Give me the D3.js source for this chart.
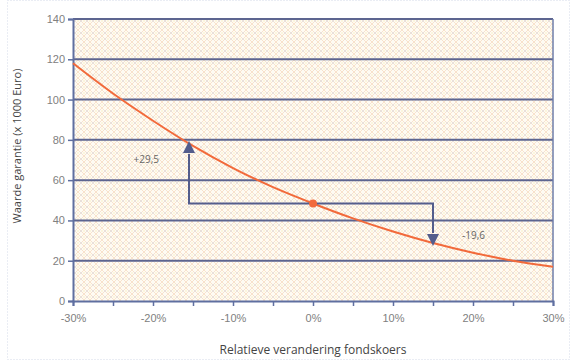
<!DOCTYPE html>
<html>
<head>
<meta charset="utf-8">
<script src="https://cdn.jsdelivr.net/npm/d3@7"></script>
<style>
  body { margin: 0; background: #fff; }
  svg { display: block; font-family: "Open Sans", "DejaVu Sans", sans-serif; }
</style>
</head>
<body>
<svg id="chart" width="570" height="360"></svg>
<script>
// koersverandering (fractie) en waarde garantie (x 1000 Euro)
const changes = [-0.30, -0.25, -0.20, -0.15, -0.10, -0.05, 0, 0.05, 0.10, 0.15, 0.20, 0.25, 0.30];
const values  = [118, 103, 89.5, 77, 66, 56.5, 48.4, 41, 34.5, 28.8, 24, 20, 17];
const xTicks = [-0.30, -0.20, -0.10, 0, 0.10, 0.20, 0.30];
const yTicks = [0, 20, 40, 60, 80, 100, 120, 140];
const baseValue = 48.4;
const upChange = -0.155, upValue = 77.9, upLabel = "+29,5";
const downChange = 0.15, downValue = 28.8, downLabel = "-19,6";

const svg = d3.select("#chart");
const margin = { top: 19, right: 17, bottom: 59, left: 73 };
const width = +svg.attr("width");
const height = +svg.attr("height");

const x = d3.scaleLinear().domain([-0.30, 0.30]).range([margin.left, width - margin.right]);
const y = d3.scaleLinear().domain([0, 140]).range([height - margin.bottom, margin.top]);

// achtergrond patroon
const defs = svg.append("defs");
const pat = defs.append("pattern")
  .attr("id", "hatch").attr("width", 6).attr("height", 6)
  .attr("patternUnits", "userSpaceOnUse");
pat.append("rect").attr("width", 6).attr("height", 6).attr("fill", "#fefbf3");
pat.append("path").attr("d", "M0,0 L6,6 M6,0 L0,6")
  .attr("stroke", "#f8e2cc").attr("stroke-width", 1);
pat.append("circle").attr("cx", 3).attr("cy", 3).attr("r", 0.9).attr("fill", "#e4e0e0");
pat.append("circle").attr("cx", 0).attr("cy", 3).attr("r", 0.8).attr("fill", "#fbefc2");
pat.append("circle").attr("cx", 6).attr("cy", 3).attr("r", 0.8).attr("fill", "#fbefc2");

// buitenrand
svg.append("rect")
  .attr("x", 7.5).attr("y", 0.5).attr("width", width - 8).attr("height", height - 1)
  .attr("fill", "none").attr("stroke", "#d5dbe8").attr("stroke-dasharray", "1,2");

svg.append("rect")
  .attr("x", x(-0.30)).attr("y", y(140))
  .attr("width", x(0.30) - x(-0.30)).attr("height", y(0) - y(140))
  .attr("fill", "url(#hatch)");

// gridlijnen
svg.append("g")
  .selectAll("line")
  .data(yTicks.filter(d => d > 0))
  .join("line")
  .attr("x1", x(-0.30)).attr("x2", x(0.30))
  .attr("y1", d => y(d)).attr("y2", d => y(d))
  .attr("stroke", "#5d6590").attr("stroke-width", 2);

// rechterrand
svg.append("line")
  .attr("x1", x(0.30)).attr("x2", x(0.30))
  .attr("y1", y(140)).attr("y2", y(0))
  .attr("stroke", "#6f7eaa").attr("stroke-width", 1.5);

// assen
const axisColor = "#5f6fa0";
const yAxis = svg.append("g")
  .attr("transform", `translate(${x(-0.30)},0)`)
  .call(d3.axisLeft(y).tickValues(yTicks).tickSize(5).tickPadding(3).tickFormat(d3.format("d")));
const xAxis = svg.append("g")
  .attr("transform", `translate(0,${y(0)})`)
  .call(d3.axisBottom(x).tickValues(d3.range(-0.30, 0.301, 0.05)).tickSize(5).tickPadding(8)
    .tickFormat(d => xTicks.some(t => Math.abs(t - d) < 1e-9) ? d3.format(".0%")(d).replace("−", "-") : ""));

[xAxis, yAxis].forEach(g => {
  g.select(".domain").attr("stroke", axisColor).attr("stroke-width", 2);
  g.selectAll(".tick line").attr("stroke", axisColor).attr("stroke-width", 1.5);
  g.selectAll(".tick text").attr("fill", "#808080").attr("font-size", 11);
});

// curve
const line = d3.line()
  .x((d, i) => x(changes[i]))
  .y(d => y(d))
  .curve(d3.curveMonotoneX);

svg.append("path")
  .datum(values)
  .attr("d", line)
  .attr("fill", "none")
  .attr("stroke", "#f26a3b")
  .attr("stroke-width", 2);

// pijlen
const arrowColor = "#535d8c";
svg.append("path")
  .attr("d", `M${x(upChange)},${y(upValue) + 10} V${y(baseValue)} H${x(downChange)} V${y(downValue) - 10}`)
  .attr("fill", "none").attr("stroke", arrowColor).attr("stroke-width", 2);

const tri = 6;
svg.append("path")
  .attr("d", `M${x(upChange)},${y(upValue) - 3} l${tri},${12} h${-2 * tri} Z`)
  .attr("fill", arrowColor);
svg.append("path")
  .attr("d", `M${x(downChange)},${y(downValue) + 3} l${tri},${-12} h${-2 * tri} Z`)
  .attr("fill", arrowColor);

svg.append("circle")
  .attr("cx", x(0)).attr("cy", y(baseValue)).attr("r", 4)
  .attr("fill", "#f26a3b");

// labels
svg.append("text")
  .attr("x", x(upChange) - 30).attr("y", y(upValue) + 19)
  .attr("text-anchor", "end").attr("font-size", 10).attr("fill", "#666")
  .text(upLabel);
svg.append("text")
  .attr("x", x(downChange) + 29).attr("y", y(downValue) - 4)
  .attr("font-size", 10).attr("fill", "#666")
  .text(downLabel);

// astitels
svg.append("text")
  .attr("x", x(0)).attr("y", height - 6)
  .attr("text-anchor", "middle").attr("font-size", 12).attr("fill", "#444")
  .text("Relatieve verandering fondskoers");

svg.append("text")
  .attr("transform", `translate(21,146) rotate(-90)`)
  .attr("text-anchor", "middle").attr("font-size", 11).attr("fill", "#444")
  .text("Waarde garantie (x 1000 Euro)");
</script>
</body>
</html>
